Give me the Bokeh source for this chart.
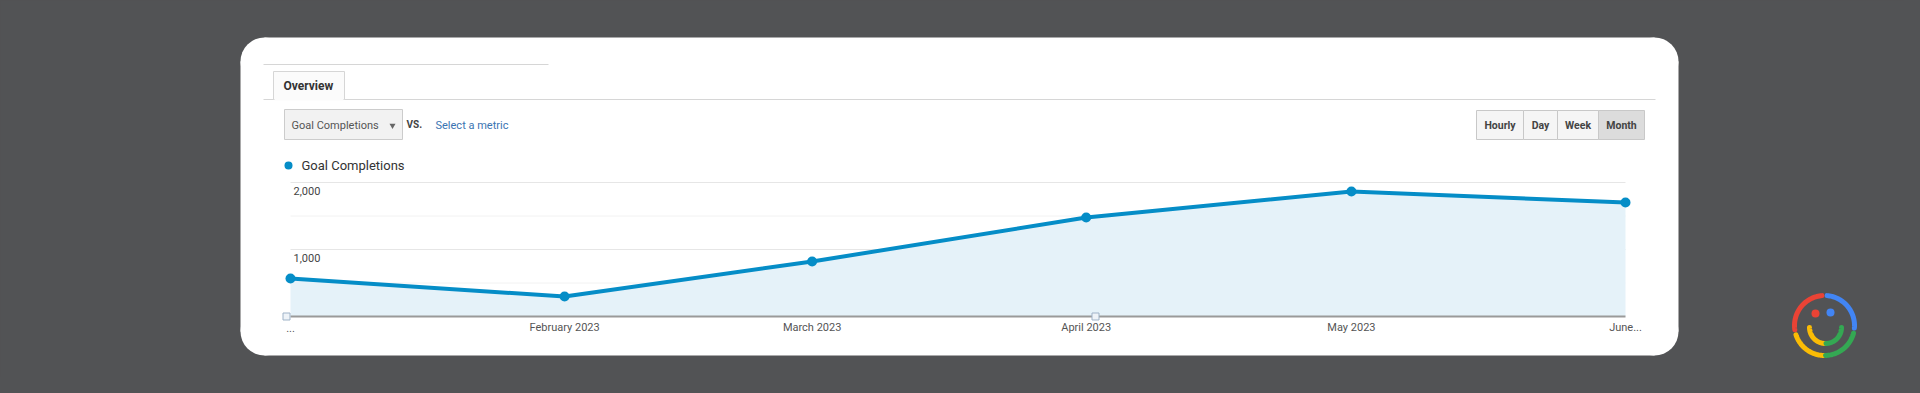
from datetime import datetime
import numpy as np
from bokeh.plotting import figure
from bokeh.models import Range1d, GlobalInlineStyleSheet
from bokeh.core.properties import value
from bokeh.embed import file_html
from bokeh.resources import INLINE

# ---------------- data ----------------
months = [datetime(2023, 1, 1), datetime(2023, 2, 1), datetime(2023, 3, 1),
          datetime(2023, 4, 1), datetime(2023, 5, 1), datetime(2023, 6, 1)]
goal_completions = [567, 299, 821, 1478, 1866, 1701]
x_tick_labels = ["...", "February 2023", "March 2023", "April 2023", "May 2023", "June..."]
y_major_ticks = [1000, 2000]
y_major_labels = ["1,000", "2,000"]
y_minor_ticks = [500, 1500]
buttons = ["Hourly", "Day", "Week", "Month"]

# ---------------- layout ----------------
W, H = 1904, 377
FONT = value("Roboto")
BG = "#525355"
BLUE = "#058dc7"

# chart placement (canvas pixels)
PX_FIRST, PX_LAST = 290, 1625   # where first / last month land
PY_ZERO, PY_2000 = 316, 182      # where 0 / 2000 land

span = months[-1] - months[0]
frac = span / (PX_LAST - PX_FIRST)
t_start = months[0] - frac * PX_FIRST
t_end = months[0] + frac * (W - PX_FIRST)
v_per_px = 2000 / (PY_ZERO - PY_2000)
v_start = -(H - PY_ZERO) * v_per_px
v_end = PY_ZERO * v_per_px

p = figure(width=W, height=H, output_backend="svg", toolbar_location=None,
           x_axis_type=None, y_axis_type=None,
           x_range=Range1d(0, W), y_range=Range1d(H, 0),
           min_border=0)
p.extra_x_ranges = {"t": Range1d(t_start, t_end)}
p.extra_y_ranges = {"v": Range1d(v_start, v_end)}
p.outline_line_color = None
p.background_fill_color = BG
p.border_fill_color = BG
p.stylesheets = [GlobalInlineStyleSheet(css="html, body { background-color: %s; }" % BG)]

# ---------------- card ----------------
R = 24
CL, CR, CT, CB = 240, 1678, 37, 355
p.quad(left=CL + R, right=CR - R, top=CT, bottom=CB, fill_color="white", line_color=None)
p.quad(left=CL, right=CR, top=CT + R, bottom=CB - R, fill_color="white", line_color=None)
p.circle(x=[CL + R, CR - R, CL + R, CR - R], y=[CT + R, CT + R, CB - R, CB - R],
         radius=R, fill_color="white", line_color=None)

# tab header
p.segment(x0=[263], y0=[64], x1=[548], y1=[64], line_color="#d6d6d6", line_width=1)
p.segment(x0=[263], y0=[99], x1=[1655], y1=[99], line_color="#d6d6d6", line_width=1)
p.quad(left=273, right=344, top=71, bottom=99, fill_color="#fbfbfb", line_color="#d6d6d6")
p.segment(x0=[274], y0=[99], x1=[343], y1=[99], line_color="#fbfbfb", line_width=2)
p.text(x=[283], y=[85], text=["Overview"], text_font=FONT, text_font_size="12px",
       text_font_style="bold", text_color="#333333", text_baseline="middle")

# metric dropdown
p.quad(left=284, right=402, top=109, bottom=139, fill_color="#f2f2f2", line_color="#cccccc")
p.text(x=[291], y=[125], text=["Goal Completions"], text_font=FONT, text_font_size="11px",
       text_color="#555555", text_baseline="middle")
p.scatter(x=[392], y=[125], marker="inverted_triangle", size=6, fill_color="#666666",
          line_color=None)
p.text(x=[406], y=[124], text=["VS."], text_font=FONT, text_font_size="10px",
       text_font_style="bold", text_color="#444444", text_baseline="middle")
p.text(x=[435], y=[125], text=["Select a metric"], text_font=FONT, text_font_size="11px",
       text_color="#3a74b2", text_baseline="middle")

# legend
p.circle(x=[288], y=[165], radius=4, fill_color=BLUE, line_color=None)
p.text(x=[301], y=[165], text=["Goal Completions"], text_font=FONT, text_font_size="13px",
       text_color="#333333", text_baseline="middle")

# period buttons
b_edges = [1476, 1523, 1557, 1598, 1644]
b_fill = ["#f5f5f5", "#f5f5f5", "#f5f5f5", "#dcdcdc"]
p.quad(left=b_edges[:-1], right=b_edges[1:], top=110, bottom=139,
       fill_color=b_fill, line_color="#c8c8c8")
p.text(x=[(a + b) / 2 for a, b in zip(b_edges[:-1], b_edges[1:])], y=[125] * 4, text=buttons,
       text_font=FONT, text_font_size="10.5px", text_font_style="bold", text_color="#444444",
       text_align="center", text_baseline="middle")

# ---------------- chart ----------------
ch = dict(x_range_name="t", y_range_name="v")
p.segment(x0=[months[0]] * 2, x1=[months[-1]] * 2, y0=y_minor_ticks, y1=y_minor_ticks,
          line_color="#f2f2f2", line_width=1, **ch)
p.segment(x0=[months[0]] * 2, x1=[months[-1]] * 2, y0=y_major_ticks, y1=y_major_ticks,
          line_color="#e6e6e6", line_width=1, **ch)
p.varea(x=months, y1=[0] * len(months), y2=goal_completions, fill_color="#e5f2f9", **ch)
p.segment(x0=[months[0]], x1=[months[-1]], y0=[0], y1=[0], line_color="#9a9a9a",
          line_width=2, **ch)
p.line(x=months, y=goal_completions, line_color=BLUE, line_width=4, **ch)
p.scatter(x=months, y=goal_completions, size=10, fill_color=BLUE, line_color=None, **ch)

# annotation markers on the baseline (page decoration)
p.scatter(x=[286, 1095], y=[PY_ZERO, PY_ZERO], marker="square", size=7,
          fill_color="#eef3f8", line_color="#9fb3c8", line_width=1)

# y tick labels (inside the plot, below gridlines)
p.text(x=[months[0]] * 2, y=y_major_ticks, text=y_major_labels, x_offset=3, y_offset=8,
       text_font=FONT, text_font_size="11px", text_color="#444444", text_baseline="middle", **ch)
# x tick labels
p.text(x=months, y=[0] * len(months), text=x_tick_labels, y_offset=11,
       text_font=FONT, text_font_size="11px", text_color="#555555",
       text_align="center", text_baseline="middle", **ch)

# ---------------- logo ----------------
cx, cy, r = 1824, 325, 30


def arc_pts(cx, cy, r, a0, a1):
    a = np.radians(np.linspace(a0, a1, 40))
    return list(cx + r * np.cos(a)), list(cy - r * np.sin(a))


segs = [((-5, 85), "#4285f4"), ((95, 188), "#ea4335"), ((198, 268), "#fbbc05"),
        ((272, 345), "#34a853")]
xs, ys, cols = [], [], []
for (a0, a1), c in segs:
    x_, y_ = arc_pts(cx, cy, r, a0, a1)
    xs.append(x_); ys.append(y_); cols.append(c)
for (a0, a1), c in [((180, 268), "#fbbc05"), ((272, 360), "#34a853")]:
    x_, y_ = arc_pts(cx + 1, cy + 2, 16, a0, a1)
    xs.append(x_); ys.append(y_); cols.append(c)
p.multi_line(xs=xs, ys=ys, line_color=cols, line_width=5, line_cap="round")
p.circle(x=[1815, 1830], y=[313, 312], radius=4, fill_color=["#ea4335", "#4285f4"],
         line_color=None)

open("out.html", "w").write(file_html(p, INLINE))
